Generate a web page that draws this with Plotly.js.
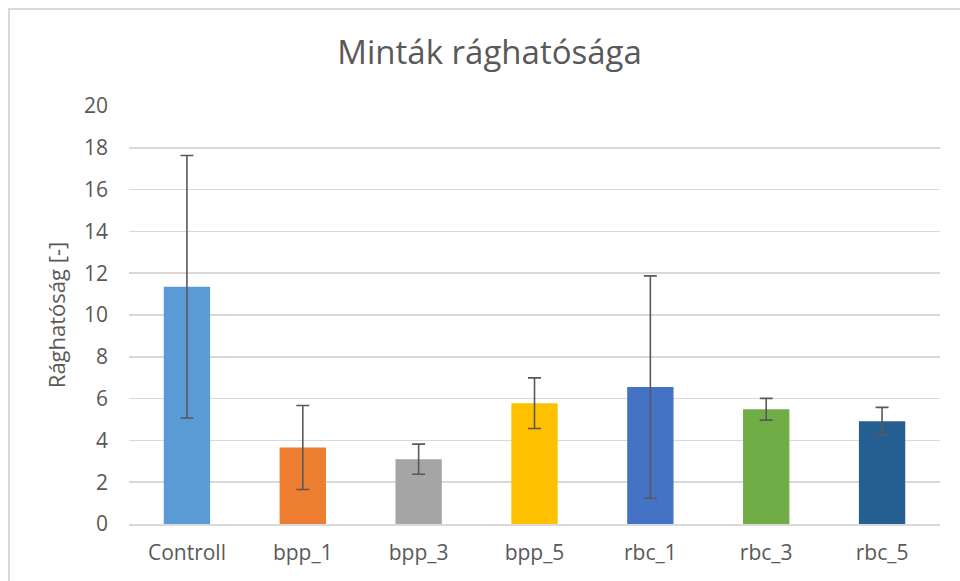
<!DOCTYPE html>
<html>
<head>
<meta charset="utf-8">
<script src="https://cdn.plot.ly/plotly-3.0.1.min.js"></script>
<style>
html,body{margin:0;padding:0;background:#fff;}
#wrap{position:relative;width:960px;height:581px;}
#chart{width:960px;height:581px;}
#frame{position:absolute;left:8px;top:8px;right:-10px;bottom:-10px;border:2px solid #d9d9d9;pointer-events:none;}
</style>
</head>
<body>
<div id="wrap">
<div id="chart"></div>
<div id="frame"></div>
</div>
<script>
const categories = ["Controll", "bpp_1", "bpp_3", "bpp_5", "rbc_1", "rbc_3", "rbc_5"];
const values = [11.35, 3.66, 3.10, 5.78, 6.55, 5.49, 4.92];
const errors = [6.28, 2.01, 0.72, 1.21, 5.32, 0.52, 0.66];
const colors = ["#5B9BD5", "#ED7D31", "#A5A5A5", "#FFC000", "#4472C4", "#70AD47", "#255E91"];
const yTicks = [0, 2, 4, 6, 8, 10, 12, 14, 16, 18, 20];

const font = "'Open Sans', 'DejaVu Sans', sans-serif";
const trace = {
  type: "bar",
  x: categories,
  y: values,
  marker: {color: colors, line: {width: 0}},
  error_y: {type: "data", array: errors, visible: true, color: "#595959", thickness: 1.6, width: 6.5},
  hoverinfo: "x+y"
};

const layout = {
  width: 960, height: 581,
  margin: {l: 129, r: 20, t: 106, b: 57},
  paper_bgcolor: "#ffffff", plot_bgcolor: "#ffffff",
  bargap: 0.6,
  showlegend: false,
  title: {text: "Minták rághatósága", x: 0.51, xanchor: "center", y: 0.91, yanchor: "middle",
          font: {family: font, size: 33, color: "#595959"}},
  xaxis: {
    type: "category",
    showgrid: false, zeroline: false,
    showline: true, linecolor: "#d9d9d9", linewidth: 1.5,
    ticks: "", tickfont: {family: font, size: 21, color: "#595959"},
    ticklabelstandoff: 9
  },
  yaxis: {
    range: [0, 20], tickvals: yTicks, ticktext: yTicks.map(String),
    showgrid: true, gridcolor: "#d9d9d9", gridwidth: 1.5,
    zeroline: false, showline: false, ticks: "",
    tickfont: {family: font, size: 21, color: "#595959"},
    ticklabelstandoff: 20,
    title: {text: "Rághatóság [-]", font: {family: font, size: 22, color: "#595959"}, standoff: 12}
  }
};

Plotly.newPlot("chart", [trace], layout, {displayModeBar: false, staticPlot: true});
</script>
</body>
</html>
